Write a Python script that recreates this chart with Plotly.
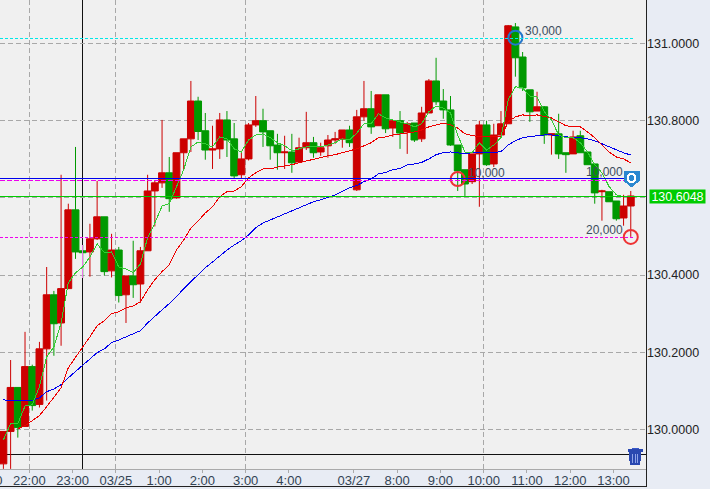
import plotly.graph_objects as go

opens = [129.911,129.995,130.109,130.008,130.163,130.065,130.209,130.349,130.276,130.365,
130.569,130.463,130.460,130.494,130.551,130.411,130.465,130.349,130.398,130.377,
130.463,130.618,130.639,130.665,130.600,130.717,130.753,130.851,130.774,130.724,
130.727,130.802,130.753,130.660,130.701,130.789,130.800,130.774,130.737,130.717,
130.719,130.693,130.730,130.743,130.719,130.735,130.750,130.753,130.776,130.621,
130.810,130.831,130.787,130.867,130.781,130.800,130.771,130.794,130.753,130.820,
130.903,130.851,130.828,130.737,130.673,130.642,130.714,130.789,130.688,130.763,
130.792,131.043,130.965,130.880,130.825,130.836,130.763,130.766,130.717,130.714,
130.761,130.719,130.688,130.616,130.616,130.592,130.548,130.579]
highs = [129.995,130.180,130.109,130.253,130.168,130.227,130.421,130.359,130.660,130.585,
130.732,130.478,130.533,130.644,130.551,130.507,130.473,130.398,130.489,130.473,
130.660,130.644,130.802,130.706,130.717,130.753,130.903,130.862,130.820,130.787,
130.820,130.825,130.794,130.722,130.794,130.864,130.831,130.774,130.766,130.761,
130.766,130.756,130.823,130.758,130.743,130.763,130.771,130.776,130.787,130.828,
130.903,130.877,130.867,130.867,130.800,130.825,130.797,130.794,130.836,130.908,
130.963,130.882,130.864,130.737,130.673,130.714,130.800,130.800,130.792,130.825,
131.048,131.053,130.978,130.880,130.875,130.838,130.766,130.818,130.717,130.774,
130.774,130.719,130.688,130.621,130.616,130.592,130.608,130.618]
lows = [129.898,129.898,129.979,130.008,130.049,130.057,130.075,130.191,130.217,130.365,
130.442,130.393,130.396,130.491,130.399,130.394,130.329,130.276,130.341,130.328,
130.463,130.526,130.626,130.564,130.598,130.673,130.719,130.750,130.699,130.675,
130.701,130.706,130.649,130.649,130.697,130.784,130.732,130.699,130.673,130.675,
130.665,130.693,130.724,130.704,130.709,130.704,130.740,130.730,130.732,130.618,
130.800,130.766,130.787,130.768,130.758,130.727,130.714,130.745,130.745,130.820,
130.841,130.805,130.735,130.618,130.605,130.636,130.577,130.683,130.680,130.761,
130.792,130.914,130.877,130.797,130.825,130.740,130.712,130.701,130.665,130.714,
130.717,130.686,130.585,130.541,130.590,130.541,130.528,130.499]
closes = [129.995,130.109,130.005,130.163,130.062,130.209,130.349,130.274,130.365,130.569,
130.460,130.458,130.494,130.551,130.409,130.465,130.347,130.398,130.375,130.463,
130.618,130.639,130.665,130.598,130.717,130.753,130.851,130.772,130.724,130.727,
130.802,130.750,130.657,130.701,130.789,130.800,130.771,130.735,130.717,130.719,
130.691,130.730,130.743,130.717,130.730,130.750,130.753,130.776,130.743,130.810,
130.831,130.784,130.867,130.779,130.800,130.768,130.792,130.750,130.820,130.903,
130.849,130.828,130.737,130.670,130.636,130.714,130.789,130.686,130.763,130.792,
131.046,130.963,130.885,130.823,130.836,130.763,130.766,130.714,130.712,130.758,
130.717,130.686,130.613,130.618,130.590,130.546,130.579,130.605]

ma_blue = [130.077,130.074,130.074,130.074,130.075,130.082,130.098,130.105,130.116,130.134,
130.150,130.168,130.183,130.199,130.209,130.225,130.232,130.240,130.248,130.256,
130.276,130.294,130.310,130.326,130.344,130.365,130.383,130.403,130.419,130.434,
130.450,130.465,130.478,130.489,130.504,130.523,130.535,130.543,130.551,130.559,
130.567,130.573,130.582,130.590,130.595,130.601,130.608,130.617,130.626,130.632,
130.642,130.649,130.662,130.666,130.673,130.676,130.686,130.688,130.692,130.701,
130.712,130.717,130.719,130.717,130.714,130.717,130.717,130.717,130.717,130.720,
130.737,130.748,130.756,130.759,130.761,130.763,130.763,130.761,130.758,130.756,
130.756,130.753,130.748,130.740,130.732,130.724,130.717,130.711]
ma_red = [None,None,130.002,130.010,130.023,130.036,130.059,130.085,130.108,130.160,
130.188,130.214,130.240,130.269,130.282,130.300,130.305,130.315,130.320,130.331,
130.362,130.388,130.409,130.427,130.465,130.491,130.522,130.540,130.561,130.577,
130.603,130.616,130.618,130.629,130.652,130.665,130.675,130.675,130.680,130.683,
130.686,130.691,130.696,130.699,130.704,130.709,130.712,130.717,130.722,130.727,
130.735,130.743,130.756,130.758,130.763,130.766,130.768,130.771,130.776,130.784,
130.789,130.794,130.789,130.781,130.766,130.761,130.758,130.758,130.758,130.758,
130.797,130.810,130.815,130.813,130.815,130.810,130.807,130.797,130.787,130.784,
130.784,130.771,130.756,130.737,130.719,130.706,130.701,130.691]
ma_green = [129.973,130.015,130.015,130.061,130.064,130.111,130.188,130.214,130.276,130.380,
130.406,130.421,130.447,130.481,130.458,130.460,130.421,130.416,130.406,130.429,
130.497,130.535,130.579,130.585,130.629,130.673,130.732,130.745,130.740,130.732,
130.758,130.753,130.727,130.719,130.750,130.763,130.766,130.756,130.743,130.735,
130.722,130.727,130.732,130.732,130.732,130.737,130.743,130.753,130.750,130.768,
130.792,130.792,130.818,130.807,130.802,130.797,130.792,130.784,130.792,130.823,
130.838,130.833,130.820,130.763,130.719,130.717,130.743,130.724,130.737,130.756,
130.854,130.888,130.885,130.864,130.862,130.823,130.802,130.763,130.756,130.756,
130.743,130.719,130.686,130.665,130.629,130.608,130.603,130.603]

tick_labels = ["22:00","23:00","03/25","1:00","2:00","3:00","4:00","03/27","8:00","9:00","10:00","11:00","12:00","13:00"]
tick_index = [3.6,9.6,15.6,21.6,27.6,33.6,39.6,48.6,54.6,60.6,66.6,72.6,78.6,84.6]
grid_index = [3.6,15.6,33.6,66.6]
price_ticks = [131.0,130.8,130.6,130.4,130.2,130.0]
price_labels = ["131.0000","130.8000","","130.4000","130.2000","130.0000"]
current_price = 130.6048
level_cyan = 131.013
level_blue = 130.649
level_mag_hi = 130.646
level_mag_lo = 130.498
cross_index = 11
cross_price = 129.936
order_index = [63, 71, 87]
order_price = [130.649, 131.015, 130.499]
order_color = ["#ee3333", "#2277cc", "#ee3333"]
labels = [("30,000", 72.1, 131.033), ("10,000", 64.1, 130.665), ("10,000", 80.5, 130.668), ("20,000", 80.5, 130.517)]

n = list(range(len(opens)))
W, H = 710, 489
PW, PH = 646.5, 469
RED, GREEN = "#cc0000", "#009900"

fig = go.Figure()
fig.add_trace(go.Candlestick(x=n, open=opens, high=highs, low=lows, close=closes, whiskerwidth=0,
    increasing=dict(line=dict(color=RED, width=1), fillcolor=RED),
    decreasing=dict(line=dict(color=GREEN, width=1), fillcolor=GREEN), showlegend=False, hoverinfo="skip"))
fig.add_trace(go.Scatter(x=[cross_index, cross_index], y=[lows[cross_index], highs[cross_index]], mode="lines",
    line=dict(color="#e878e8", width=1), hoverinfo="skip", showlegend=False))
for s, c in ((ma_blue, "#0000ee"), (ma_red, "#ee0000"), (ma_green, "#33cc33")):
    fig.add_trace(go.Scatter(x=n, y=s, mode="lines", line=dict(color=c, width=1), hoverinfo="skip", showlegend=False))
fig.add_trace(go.Scatter(x=order_index, y=order_price, mode="markers", hoverinfo="skip", showlegend=False,
    marker=dict(symbol="circle-open", size=14, color=order_color, line=dict(width=2, color=order_color))))

shapes = []
for g in grid_index:
    shapes.append(dict(type="line", xref="x", yref="paper", x0=g, x1=g, y0=0, y1=1, layer="below",
                       line=dict(color="#a8a8a8", width=1, dash="5px,3px")))
def hline(y, x1, color, dash="solid", layer="above", width=1):
    return dict(type="line", xref="x", yref="y", x0=-0.47, x1=x1, y0=y, y1=y, layer=layer,
                line=dict(color=color, width=width, dash=dash))
shapes += [
    hline(level_cyan, 87.65, "#00e8e8", "3px,2px"),
    hline(level_blue, 86, "#0000ee"),
    hline(level_mag_hi, 86, "#ee00ee", "5px,2px"),
    hline(level_mag_lo, 87.65, "#ee00ee", "3px,2px"),
    hline(current_price, 89.11, "#00cc00"),
    hline(cross_price, 89.11, "#111111", layer="below"),
    dict(type="line", xref="x", yref="paper", x0=cross_index, x1=cross_index, y0=0, y1=1, layer="below",
         line=dict(color="#111111", width=1)),
]
def px(x): return x / PW
def py(y): return 1 - y / PH
# axis frame
shapes.append(dict(type="line", xref="paper", yref="paper", x0=1, x1=1, y0=py(486.5), y1=1, line=dict(color="#222222", width=1)))
shapes.append(dict(type="line", xref="paper", yref="paper", x0=0, x1=1, y0=py(486.5), y1=py(486.5), line=dict(color="#222222", width=1)))
# trash icon
def poly(pts, color):
    d = "M" + " L".join(f"{px(a):.5f},{py(b):.5f}" for a, b in pts) + " Z"
    return dict(type="path", xref="paper", yref="paper", path=d, fillcolor=color, line=dict(width=0))
shapes.append(poly([(629, 452), (642, 452), (640.5, 465), (630.5, 465)], "#2a48b0"))
shapes.append(poly([(628, 449.5), (643, 449.5), (643, 452), (628, 452)], "#2a48b0"))
shapes.append(poly([(632, 448), (639, 448), (639, 449.5), (632, 449.5)], "#3a58c8"))
for xs in (632.5, 635.2, 637.9):
    shapes.append(poly([(xs, 454), (xs + 0.9, 454), (xs + 0.9, 463), (xs, 463)], "#8fa4e8"))
# order pin
shapes.append(poly([(624, 171), (640, 171), (640, 181), (632, 187.5), (624, 181)], "#2a87d0"))
shapes.append(dict(type="circle", xref="paper", yref="paper", x0=px(628), x1=px(636), y0=py(182), y1=py(174),
                   fillcolor="#2a87d0", line=dict(color="#ffffff", width=2)))

ann = []
for t, i, p in labels:
    ann.append(dict(text=t, x=i, y=p, xref="x", yref="y", xanchor="left", yanchor="middle", showarrow=False,
                    font=dict(family="Liberation Sans", size=12, color="#3d4d5d")))
ann.append(dict(text=f"{current_price:.4f}", xref="paper", yref="y", x=px(650), y=current_price, xanchor="left", yanchor="middle",
                showarrow=False, bgcolor="#00cc00", width=55, height=13, align="center", borderpad=0,
                font=dict(family="Liberation Sans", size=12.5, color="#ffffff")))
ann.append(dict(text="21:00", xref="paper", yref="paper", x=px(-14), y=py(480), xanchor="center", yanchor="middle", showarrow=False,
                font=dict(family="Liberation Sans", size=13, color="#334455")))

fig.update_layout(
    width=W, height=H, autosize=False,
    margin=dict(l=0, r=W - PW, t=0, b=H - PH, pad=0, autoexpand=False),
    paper_bgcolor="#e8ecf4", plot_bgcolor="#f0f0f0",
    boxgap=0.05, boxgroupgap=0,
    shapes=shapes, annotations=ann, showlegend=False, hovermode=False,
    xaxis=dict(range=[-0.471, 89.11], rangeslider=dict(visible=False), showgrid=False, zeroline=False,
               tickmode="array", tickvals=tick_index, ticktext=tick_labels, ticks="outside", ticklen=3, tickcolor="#aaaaaa",
               showline=True, linecolor="#aaaaaa", linewidth=1, ticklabelstandoff=-4,
               tickfont=dict(family="Liberation Sans", size=13, color="#334455"), fixedrange=True),
    yaxis=dict(range=[129.8977, 131.1127], side="right", tickmode="array", tickvals=price_ticks, ticktext=price_labels,
               showgrid=True, gridcolor="#a8a8a8", griddash="5px,3px", gridwidth=1, zeroline=False, ticks="",
               showline=False, tickfont=dict(family="Liberation Sans", size=12.5, color="#222222"), fixedrange=True),
)
page_css = ".shapelayer path,.scatterlayer .js-line{shape-rendering:crispEdges!important}"
fig.write_html("out.html", config=dict(displayModeBar=False),
               post_script="var s=document.createElement('style');s.textContent='" + page_css + "';document.head.appendChild(s);"
                           "document.documentElement.style.overflow='hidden';document.body.style.margin='0';document.body.style.overflow='hidden';")
